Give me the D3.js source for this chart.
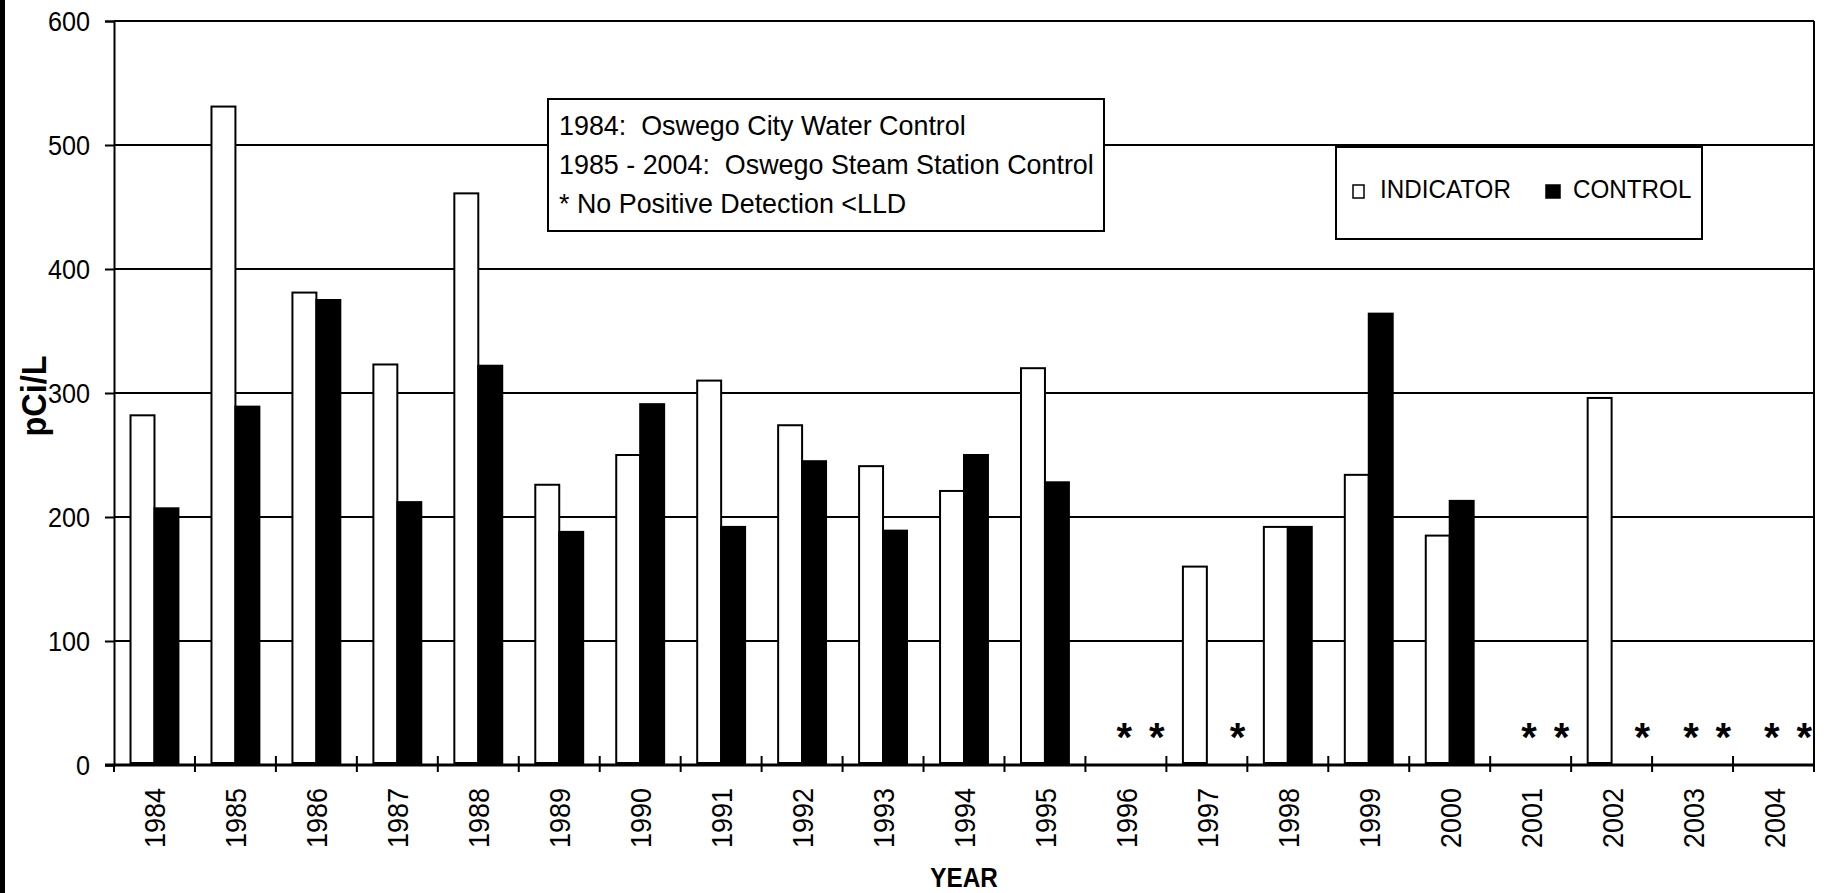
<!DOCTYPE html>
<html>
<head>
<meta charset="utf-8">
<script src="https://cdn.jsdelivr.net/npm/d3@7"></script>
<style>
  body { margin: 0; background: #fff; }
  text { font-family: "Liberation Sans", Arial, sans-serif; fill: #000; }
</style>
</head>
<body>
<svg width="1826" height="893"></svg>
<script>
// values in pCi/L, null = no positive detection (<LLD), drawn as "*"
const years = ["1984","1985","1986","1987","1988","1989","1990","1991","1992","1993","1994",
               "1995","1996","1997","1998","1999","2000","2001","2002","2003","2004"];
const indicator = [282, 531, 381, 323, 461, 226, 250, 310, 274, 241, 221,
                   320, null, 160, 192, 234, 185, null, 296, null, null];
const control   = [207, 289, 375, 212, 322, 188, 291, 192, 245, 189, 250,
                   228, null, null, 192, 364, 213, null, null, null, null];
const yTicks = [0, 100, 200, 300, 400, 500, 600];
const seriesNames = ["INDICATOR", "CONTROL"];
const noteLines = ["1984:  Oswego City Water Control",
                   "1985 - 2004:  Oswego Steam Station Control",
                   "* No Positive Detection <LLD"];

const W = 1826, H = 893;
const plotL = 114, plotR = 1814, plotT = 21, plotB = 765;

const svg = d3.select("svg");

const x = d3.scaleBand().domain(years).range([plotL, plotR]);
const x1 = d3.scaleBand().domain(seriesNames).range([0, x.bandwidth()]).paddingOuter(0.69);
const y = d3.scaleLinear().domain([0, 600]).range([plotB, plotT]);

// black strip at the left edge
svg.append("rect").attr("x", 0).attr("y", 0).attr("width", 5).attr("height", H).attr("fill", "#000");

// gridlines
svg.append("g").selectAll("line")
  .data(yTicks.filter(d => d > 0))
  .enter().append("line")
  .attr("x1", plotL).attr("x2", plotR)
  .attr("y1", d => y(d)).attr("y2", d => y(d))
  .attr("stroke", "#000").attr("stroke-width", 2);

// right border
svg.append("line").attr("x1", plotR).attr("x2", plotR).attr("y1", plotT).attr("y2", plotB)
  .attr("stroke", "#000").attr("stroke-width", 2);

// bars
const rows = years.map((yr, i) => ({ year: yr, INDICATOR: indicator[i], CONTROL: control[i] }));
const cells = [];
rows.forEach(r => seriesNames.forEach(s => cells.push({ year: r.year, series: s, value: r[s] })));

svg.append("g").selectAll("rect")
  .data(cells.filter(d => d.value != null))
  .enter().append("rect")
  .attr("x", d => x(d.year) + x1(d.series))
  .attr("width", x1.bandwidth())
  .attr("y", d => y(d.value))
  .attr("height", d => y(0) - 2 - y(d.value))
  .attr("fill", d => d.series === "INDICATOR" ? "#fff" : "#000")
  .attr("stroke", "#000").attr("stroke-width", 2);

// asterisks for non-detects
svg.append("g").selectAll("text")
  .data(cells.filter(d => d.value == null))
  .enter().append("text")
  .attr("x", d => x(d.year) + x.bandwidth() * (d.series === "INDICATOR" ? 0.48 : 0.88))
  .attr("y", y(0) - 14)
  .attr("text-anchor", "middle")
  .attr("font-size", 40).attr("font-weight", "bold")
  .text("*");

// y axis
const yAxis = svg.append("g").attr("transform", `translate(${plotL},0)`)
  .call(d3.axisLeft(y).tickValues(yTicks).tickSize(9).tickFormat(""));
yAxis.select(".domain").attr("stroke-width", 2);
yAxis.selectAll(".tick line").attr("stroke-width", 2);

svg.append("g").selectAll("text")
  .data(yTicks)
  .enter().append("text")
  .attr("transform", d => `translate(90,${y(d) + 10}) scale(0.9,1)`)
  .attr("text-anchor", "end")
  .attr("font-size", 28)
  .text(d => d);

// x axis
svg.append("line").attr("x1", plotL - 9).attr("x2", plotR).attr("y1", plotB).attr("y2", plotB)
  .attr("stroke", "#000").attr("stroke-width", 3);
svg.append("g").selectAll("line")
  .data(years.concat(["end"]))
  .enter().append("line")
  .attr("x1", (d, i) => plotL + i * x.step())
  .attr("x2", (d, i) => plotL + i * x.step())
  .attr("y1", (d, i) => i === 0 ? plotB : plotB - 9)
  .attr("y2", plotB + 7)
  .attr("stroke", "#000").attr("stroke-width", 2);

svg.append("g").selectAll("text")
  .data(years)
  .enter().append("text")
  .attr("transform", d => `translate(${x(d) + x.bandwidth() / 2 + 11},788) rotate(-90) scale(0.9,1)`)
  .attr("text-anchor", "end")
  .attr("font-size", 30)
  .text(d => d);

// axis titles
svg.append("text")
  .attr("transform", `translate(${(plotL + plotR) / 2},887) scale(0.9,1)`)
  .attr("text-anchor", "middle")
  .attr("font-size", 27).attr("font-weight", "bold")
  .text("YEAR");

svg.append("text")
  .attr("transform", `translate(46,396) rotate(-90) scale(0.9,1)`)
  .attr("text-anchor", "middle")
  .attr("font-size", 36).attr("font-weight", "bold")
  .text("pCi/L");

// note box
const note = svg.append("g");
note.append("rect").attr("x", 548).attr("y", 99).attr("width", 556).attr("height", 132)
  .attr("fill", "#fff").attr("stroke", "#000").attr("stroke-width", 2);
note.selectAll("text")
  .data(noteLines)
  .enter().append("text")
  .attr("transform", (d, i) => `translate(559,${135 + i * 39}) scale(0.96,1)`)
  .attr("font-size", 28)
  .style("white-space", "pre")
  .text(d => d);

// legend
const legend = svg.append("g");
legend.append("rect").attr("x", 1336).attr("y", 147).attr("width", 366).attr("height", 92)
  .attr("fill", "#fff").attr("stroke", "#000").attr("stroke-width", 2);
const legendX = [1353, 1546];
seriesNames.forEach((s, i) => {
  legend.append("rect")
    .attr("x", legendX[i]).attr("y", 185)
    .attr("width", i === 0 ? 11 : 14).attr("height", 13)
    .attr("fill", i === 0 ? "#fff" : "#000")
    .attr("stroke", "#000").attr("stroke-width", 1.5);
  legend.append("text")
    .attr("transform", `translate(${legendX[i] + 27},198) scale(0.95,1)`)
    .attr("font-size", 25.5)
    .text(s);
});
</script>
</body>
</html>
